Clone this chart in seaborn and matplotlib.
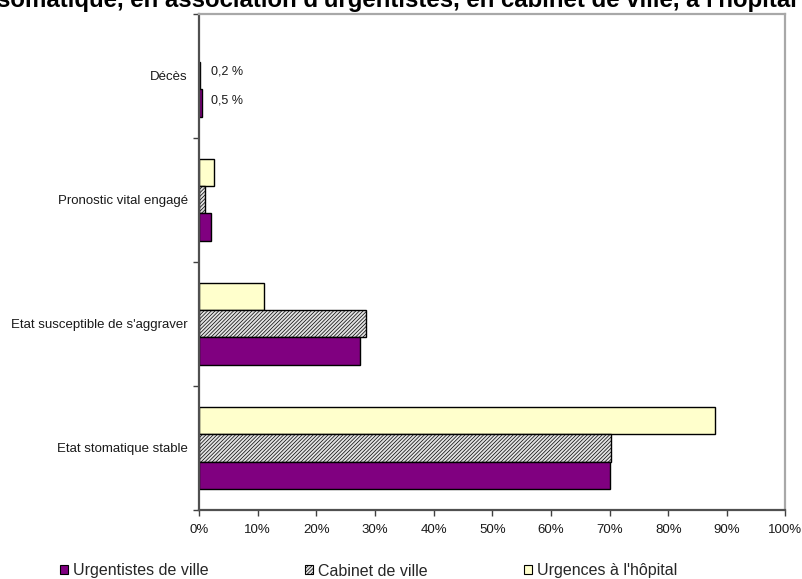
import matplotlib
matplotlib.use("Agg")
import matplotlib.pyplot as plt
import matplotlib.patches as mpatches
import pandas as pd
import seaborn as sns

# Categories, top to bottom
categories = [
    "Décès",
    "Pronostic vital engagé",
    "Etat susceptible de s'aggraver",
    "Etat stomatique stable",
]

# Series (percent)
urgentistes_ville = [0.5, 2.1, 27.5, 70.0]
cabinet_ville = [0.2, 1.1, 28.5, 70.2]
urgences_hopital = [0.0, 2.5, 11.0, 88.0]

series_names = ["Urgentistes de ville", "Cabinet de ville", "Urgences à l'hôpital"]
x_ticks = [0, 10, 20, 30, 40, 50, 60, 70, 80, 90, 100]
x_tick_labels = [f"{v}%" for v in x_ticks]

value_labels = ["0,2 %", "0,5 %"]

title_text = "somatique, en association d'urgentistes, en cabinet de ville, à l'hôpital"

colors = {
    "Urgentistes de ville": "#800080",
    "Cabinet de ville": "#e2e2e2",
    "Urgences à l'hôpital": "#ffffcc",
}
HATCH = "/////////"

df = pd.DataFrame({
    "categorie": categories * 3,
    "valeur": urgentistes_ville + cabinet_ville + urgences_hopital,
    "serie": [series_names[0]] * 4 + [series_names[1]] * 4 + [series_names[2]] * 4,
})

sns.set_theme(style="white")
plt.rcParams["font.family"] = ["Liberation Sans", "DejaVu Sans"]
plt.rcParams["hatch.linewidth"] = 0.5

fig = plt.figure(figsize=(8.03, 5.79), dpi=100)
ax = fig.add_axes([199 / 803, 1 - 510 / 579, (785.5 - 199) / 803, (510 - 13.5) / 579])

# hue order puts the hospital bar on top within each group
draw_order = ["Urgences à l'hôpital", "Cabinet de ville", "Urgentistes de ville"]
sns.barplot(
    data=df, y="categorie", x="valeur", hue="serie",
    order=categories, hue_order=draw_order, palette=colors,
    orient="h", width=0.66, gap=0, edgecolor="black", linewidth=1.0,
    legend=False, ax=ax, errorbar=None, saturation=1,
)

for name, cont in zip(draw_order, ax.containers):
    for bar in cont:
        if bar.get_width() <= 0:
            bar.set_visible(False)
        if name == "Cabinet de ville":
            bar.set_hatch(HATCH)
            if hasattr(bar, "set_hatchcolor"):
                bar.set_hatchcolor("#707070")

# value labels for the smallest bars
ax.text(2.0, -0.035, value_labels[0], fontsize=9, va="center", ha="left", color="#1a1a1a")
ax.text(2.0, 0.20, value_labels[1], fontsize=9, va="center", ha="left", color="#1a1a1a")

ax.set_xlim(0, 100)
ax.set_ylim(3.5, -0.5)
ax.set_xticks(x_ticks)
ax.set_xticklabels(x_tick_labels, fontsize=9.5, color="#1a1a1a")
ax.set_yticks(range(len(categories)))
ax.set_yticklabels(categories, fontsize=9.5, color="#1a1a1a")
ax.set_yticks([-0.5, 0.5, 1.5, 2.5, 3.5], minor=True)
ax.tick_params(axis="y", which="major", length=0, pad=8)
ax.tick_params(axis="y", which="minor", length=4, width=1, color="#404040", direction="out", left=True)
ax.tick_params(axis="x", which="major", length=4, width=1, color="#404040", direction="out", bottom=True, pad=6)
ax.set_xlabel("")
ax.set_ylabel("")

for side in ["left", "bottom"]:
    ax.spines[side].set_color("#505050")
    ax.spines[side].set_linewidth(1.6)
for side in ["top", "right"]:
    ax.spines[side].set_color("#a8a8a8")
    ax.spines[side].set_linewidth(1.6)
    ax.spines[side].set_visible(True)

# legend in series order
handles = []
for name in series_names:
    p = mpatches.Patch(facecolor=colors[name], edgecolor="black", linewidth=0.8,
                       hatch=HATCH if name == "Cabinet de ville" else None)
    handles.append(p)
fig.legend(handles, series_names, loc="center left", bbox_to_anchor=(60 / 803, 1 - 571 / 579),
           ncol=3, frameon=False, fontsize=11.5, handlelength=0.5, handleheight=0.5,
           handletextpad=0.3, columnspacing=6.05, borderpad=0, borderaxespad=0)

fig.text(-3 / 803, 1 - 7 / 579, title_text, fontsize=17.3, fontweight="bold",
         ha="left", va="baseline", color="black")

fig.savefig("out.png", dpi=100)
